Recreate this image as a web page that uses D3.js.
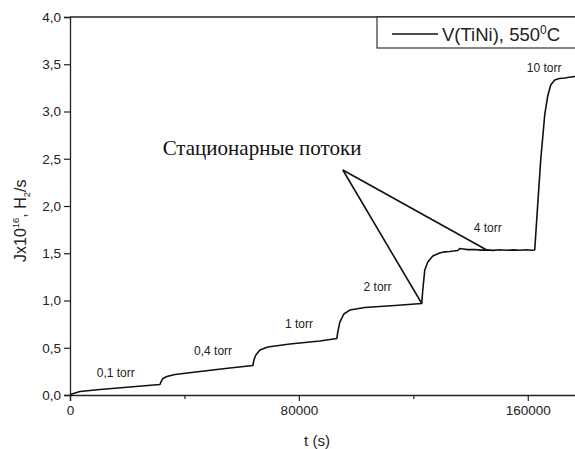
<!DOCTYPE html>
<html><head><meta charset="utf-8">
<script src="https://cdn.jsdelivr.net/npm/d3@7"></script>
<style>body{margin:0;background:#fff}svg{display:block}</style>
</head><body>
<script>
// time (s) and flux (x10^16 H2/s)
const timeS = [0,700,1750,3490,10480,20960,31440,31790,32490,33880,36680,45410,55890,63920,64270,64970,66370,69160,76850,87330,93260,93610,94310,95710,97800,103040,113520,122950,123300,124000,125050,126800,129240,131000,132730,134000,135530,136230,137500,139000,141470,143500,145660,148000,150200,152500,155000,157180,159500,161500,162420,163120,164520,165920,166970,168020,169410,171000,172900,174500,176400,178000];
const flux  = [0,0.011,0.021,0.037,0.058,0.085,0.111,0.138,0.175,0.196,0.217,0.249,0.286,0.312,0.370,0.423,0.476,0.508,0.540,0.571,0.598,0.667,0.772,0.857,0.899,0.926,0.947,0.968,1.111,1.323,1.407,1.471,1.503,1.515,1.519,1.523,1.529,1.550,1.545,1.538,1.540,1.533,1.536,1.530,1.537,1.531,1.536,1.532,1.537,1.531,1.534,1.852,2.487,2.963,3.164,3.280,3.333,3.350,3.354,3.362,3.370,3.372];
const xTicks = [0, 80000, 160000];
const xMinorTicks = [40000, 120000];
const yTicks = [0,0.5,1,1.5,2,2.5,3,3.5,4];
const pressureLabels = [
  {text:"0,1 torr", t:16000, v:0.19},
  {text:"0,4 torr", t:50000, v:0.42},
  {text:"1 torr", t:80000, v:0.71},
  {text:"2 torr", t:107500, v:1.1},
  {text:"4 torr", t:146000, v:1.72},
  {text:"10 torr", t:165700, v:3.42}
];
const annotation = {text:"Стационарные потоки", apex:[95360, 2.381], targets:[[122950,0.968],[145660,1.534]]};
const legendLabel = "V(TiNi), 550";

const W = 575, H = 449;
const svg = d3.select("body").append("svg").attr("width", W).attr("height", H);
const x = d3.scaleLinear().domain([0, 180000]).range([70, 585]);
const y = d3.scaleLinear().domain([0, 4]).range([395, 17]);
const font = "Liberation Sans, Arial, sans-serif";

// frame top
svg.append("line").attr("x1", x(0)).attr("x2", x(180000)).attr("y1", y(4)).attr("y2", y(4))
  .attr("stroke", "#222").attr("stroke-width", 1.3);

const fmt = d => d3.format(".1f")(d).replace(".", ",");
svg.append("g").attr("transform", `translate(${x(0)},0)`)
  .call(d3.axisLeft(y).tickValues(yTicks).tickFormat(fmt).tickSize(6).tickPadding(3));
svg.append("g").attr("transform", `translate(0,${y(0)})`)
  .call(d3.axisBottom(x).tickValues(xTicks).tickFormat(d3.format("d")).tickSize(6).tickPadding(4));
svg.append("g").attr("transform", `translate(0,${y(0)})`)
  .call(d3.axisBottom(x).tickValues(xMinorTicks).tickFormat("").tickSize(4))
  .select(".domain").remove();
svg.selectAll(".domain").attr("stroke", "#222").attr("stroke-width", 1.3);
svg.selectAll(".tick line").attr("stroke", "#222").attr("stroke-width", 1.2);
svg.selectAll(".tick text").attr("font-family", font).attr("font-size", 13.5).attr("fill", "#222");

// axis titles
svg.append("text").attr("x", 317).attr("y", 446).attr("text-anchor", "middle")
  .attr("font-family", font).attr("font-size", 15).attr("fill", "#222").text("t (s)");
const yt = svg.append("text").attr("transform", "translate(26,262) rotate(-90)")
  .attr("font-family", font).attr("font-size", 16).attr("fill", "#222");
yt.append("tspan").text("Jx10");
yt.append("tspan").attr("dy", -7).attr("font-size", 9.5).text("16");
yt.append("tspan").attr("dy", 7).text(", H");
yt.append("tspan").attr("dy", 4).attr("font-size", 9.5).text("2");
yt.append("tspan").attr("dy", -4).text("/s");

// data line
const line = d3.line().x((d, i) => x(timeS[i])).y(d => y(d));
svg.append("path").datum(flux).attr("d", line).attr("fill", "none")
  .attr("stroke", "#111").attr("stroke-width", 1.6).attr("stroke-linejoin", "round");

// pressure labels
svg.selectAll(".pl").data(pressureLabels).enter().append("text")
  .attr("x", d => x(d.t)).attr("y", d => y(d.v)).attr("text-anchor", "middle")
  .attr("font-family", font).attr("font-size", 12).attr("fill", "#222").text(d => d.text);

// annotation
svg.selectAll(".ann").data(annotation.targets).enter().append("line")
  .attr("x1", x(annotation.apex[0])).attr("y1", y(annotation.apex[1]))
  .attr("x2", d => x(d[0])).attr("y2", d => y(d[1]))
  .attr("stroke", "#111").attr("stroke-width", 1.6);
svg.append("text").attr("x", 262).attr("y", 155).attr("text-anchor", "middle")
  .attr("font-family", "Liberation Serif, Times New Roman, serif").attr("font-size", 21)
  .attr("fill", "#111").text(annotation.text);

// legend
svg.append("rect").attr("x", 377).attr("y", y(4)).attr("width", 230).attr("height", 31)
  .attr("fill", "#fff").attr("stroke", "#222").attr("stroke-width", 1.1);
svg.append("line").attr("x1", 392).attr("x2", 438).attr("y1", 34).attr("y2", 34)
  .attr("stroke", "#111").attr("stroke-width", 1.3);
const lt = svg.append("text").attr("x", 442).attr("y", 41)
  .attr("font-family", font).attr("font-size", 18.5).attr("fill", "#222");
lt.append("tspan").text(legendLabel);
lt.append("tspan").attr("dy", -7).attr("font-size", 12).text("0");
lt.append("tspan").attr("dy", 7).text("C");
</script>
</body></html>
